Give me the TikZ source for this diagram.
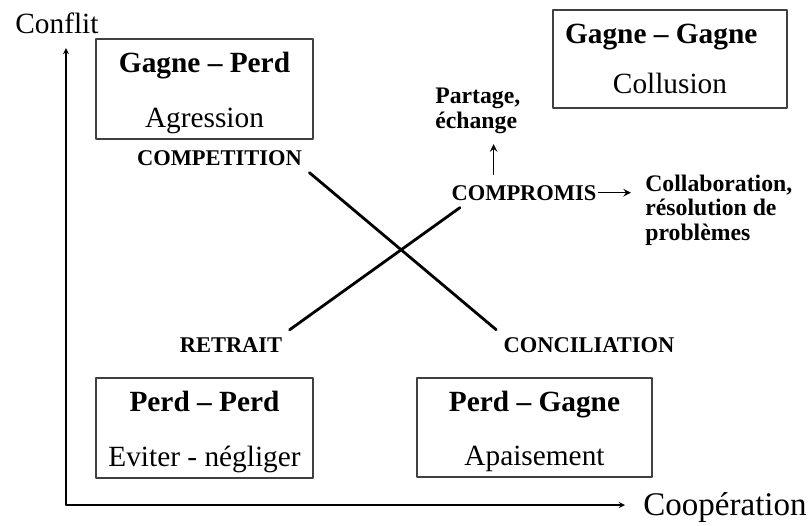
\documentclass[tikz,border=0pt]{standalone}
\usepackage{fontspec}
\setmainfont{Liberation Serif}
\newcommand\quadhead[1]{\rule{0pt}{16pt}\textbf{#1}}
\begin{document}
\begin{tikzpicture}[x=0.02cm,y=-0.02cm,line cap=round,line join=round,>=stealth,
  quadrant/.style={draw=black!75,line width=0.6pt,align=center,inner sep=0pt,font=\fontsize{16.7}{31}\selectfont},
  strategy/.style={font=\bfseries\fontsize{12.8}{13.5}\selectfont,inner sep=4pt},
  outcome/.style={font=\bfseries\fontsize{13.5}{13.8}\selectfont,align=left,inner sep=0pt},
  axislabel/.style={font=\fontsize{16.7}{20}\selectfont,inner sep=0pt}]
  \useasboundingbox (0,0) rectangle (809,525);
  \coordinate (O) at (66,505);
  \coordinate (Ytip) at (66,48);
  \coordinate (Xtip) at (625,505);
  \draw[->,line width=0.6pt] (O) -- (Ytip);
  \draw[->,line width=0.6pt] (O) -- (Xtip);
  \node[axislabel,anchor=base west] (conflit) at (15,33) {Conflit};
  \node[axislabel,anchor=base west,font=\fontsize{18.8}{22}\selectfont] (coop) at (643,515) {Coopération};
  \node[quadrant,minimum width=4.34cm,minimum height=2cm] (gp) at (204.5,89) {\quadhead{Gagne – Perd}\\Agression};
  \node[quadrant,minimum width=4.68cm,minimum height=1.96cm,font=\fontsize{16.7}{28.5}\selectfont] (gg) at (670,59) {\textbf{Gagne – Gagne}\hspace*{10pt}\\Collusion};
  \node[quadrant,minimum width=4.34cm,minimum height=2cm] (pp) at (204.5,428) {\quadhead{Perd – Perd}\\Eviter - négliger};
  \node[quadrant,minimum width=4.7cm,minimum height=1.98cm] (pg) at (534.5,427.5) {\quadhead{Perd – Gagne}\\Apaisement};
  \node[strategy,anchor=base] (competition) at (219.5,165) {COMPETITION};
  \node[strategy,anchor=base] (compromis) at (524,200) {COMPROMIS};
  \node[strategy,anchor=base] (retrait) at (231,352) {RETRAIT};
  \node[strategy,anchor=base] (conciliation) at (589,352) {CONCILIATION};
  \node[outcome,anchor=base west] (partage) at (435,128) {Partage,\\échange};
  \node[outcome,anchor=base west] (collab) at (645,240) {Collaboration,\\résolution de\\problèmes};
  \draw[line width=1.6pt] (competition.south east) -- (conciliation.north west);
  \draw[line width=1.6pt] (retrait.north east) -- ([xshift=9pt]compromis.south west);
  \draw[->,line width=0.9pt,shorten <=2pt,shorten >=6pt] ([xshift=9pt]partage.south |- compromis.north) -- ([xshift=9pt]partage.south);
  \draw[->,line width=0.9pt,shorten >=8pt] ([xshift=-3pt]compromis.east) -- (compromis.east -| collab.west);
\end{tikzpicture}
\end{document}
